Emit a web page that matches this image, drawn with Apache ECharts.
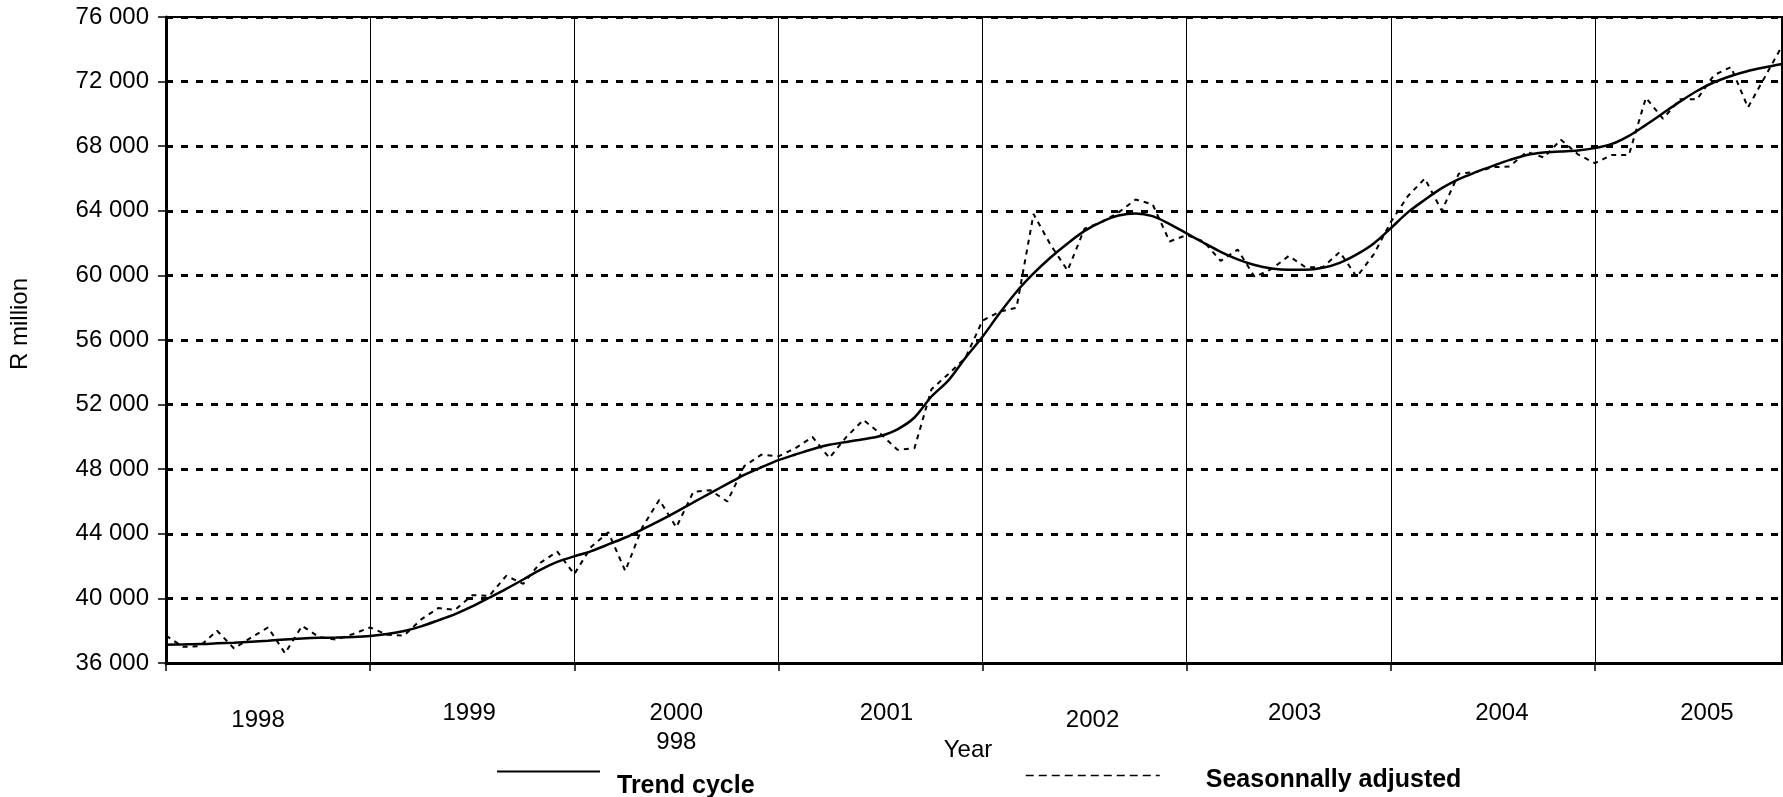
<!DOCTYPE html>
<html>
<head>
<meta charset="utf-8">
<script src="https://cdn.jsdelivr.net/npm/echarts@6/dist/echarts.min.js"></script>
<style>
html,body{margin:0;padding:0;background:#fff;}
#chart{width:1783px;height:797px;}
</style>
</head>
<body>
<div id="chart"></div>
<script>
// ---- data ----
var years = ['1998','1999','2000','2001','2002','2003','2004','2005'];
var yTicks = [36000, 40000, 44000, 48000, 52000, 56000, 60000, 64000, 68000, 72000, 76000];
var trendCycle = [
  37130, 37150, 37170, 37220, 37260, 37320, 37380, 37460, 37520, 37560, 37580, 37610,
  37670, 37790, 37980, 38270, 38640, 39030, 39500, 40040, 40590, 41170, 41770, 42260,
  42600, 42930, 43340, 43770, 44270, 44800, 45360, 45940, 46520, 47090, 47650, 48120,
  48560, 48910, 49240, 49510, 49690, 49860, 50060, 50470, 51200, 52500, 53500, 54900,
  56200, 57650, 58990, 60120, 61110, 61980, 62760, 63320, 63710, 63840, 63670, 63180,
  62600, 62020, 61460, 60990, 60640, 60430, 60350, 60350, 60470, 60780, 61300, 61980,
  62920, 63900, 64680, 65400, 65960, 66390, 66780, 67150, 67460, 67610, 67670, 67730,
  67880, 68140, 68640, 69320, 70040, 70760, 71420, 71960, 72350, 72660, 72890, 73090
];
var seasonallyAdjusted = [
  37700, 37000, 37050, 38000, 36900, 37570, 38200, 36600, 38300, 37600, 37450, 37800,
  38200, 37750, 37700, 38700, 39400, 39300, 40200, 40150, 41400, 40900, 42200, 42900,
  41500, 43200, 44100, 41700, 44400, 46100, 44400, 46600, 46700, 46000, 48200, 48900,
  48800, 49300, 50000, 48700, 50000, 51050, 50200, 49200, 49300, 52950, 53900, 54900,
  57200, 57750, 58000, 63800, 61900, 60300, 62900, 63300, 63900, 64700, 64400, 62100,
  62500, 62100, 60900, 61600, 59900, 60400, 61200, 60500, 60500, 61450, 59900, 61300,
  63300, 64900, 66000, 64000, 66300, 66400, 66700, 66750, 67650, 67300, 68400, 67500,
  66950, 67460, 67460, 71000, 69700, 70900, 70900, 72400, 72900, 70400, 72300, 74200
];

// monthly categories built from years
var months = [];
years.forEach(function (y) { for (var m = 1; m <= 12; m++) months.push(y + '-' + (m < 10 ? '0' + m : m)); });

// ---- label styling (horizontal nudge in px, extra drop in px) ----
var yearLabelNudge = {'1998': [-10, 14], '1999': [-3, 0], '2000': [0, 0], '2001': [6, 0], '2002': [8, 14], '2003': [6, 0], '2004': [9, 0], '2005': [10, 0]};

var FONT = '"Liberation Sans", Arial, sans-serif';
var FS = 24;
function fmtThousands(v) { return String(v).replace(/\B(?=(\d{3})+(?!\d))/g, ' '); }

var rich = {};
Object.keys(yearLabelNudge).forEach(function (y) {
  var dx = yearLabelNudge[y][0], dy = yearLabelNudge[y][1];
  rich['y' + y] = {
    fontFamily: FONT, fontSize: FS, color: '#000', lineHeight: 29,
    padding: [dy, dx < 0 ? -2 * dx : 0, 0, dx > 0 ? 2 * dx : 0]
  };
});

var chart = echarts.init(document.getElementById('chart'), null, {renderer: 'canvas'});
chart.setOption({
  animation: false,
  backgroundColor: '#fff',
  textStyle: {fontFamily: FONT, color: '#000'},
  grid: {left: 159, right: 1, top: 17, bottom: 134, show: true, borderColor: '#000', borderWidth: 2, backgroundColor: 'transparent'},
  legend: [
    {
      data: ['Trend cycle'], left: 491, top: 761, itemWidth: 103, itemHeight: 14, selectedMode: false,
      itemStyle: {color: 'rgba(0,0,0,0)', borderWidth: 0},
      formatter: '{a|{name}}',
      textStyle: {rich: {a: {fontFamily: FONT, fontSize: 25, fontWeight: 'bold', color: '#000', padding: [30, 0, 0, 12]}}}
    },
    {
      data: ['Seasonnally adjusted'], left: 1020, top: 763, itemWidth: 134, itemHeight: 14, selectedMode: false,
      itemStyle: {color: 'rgba(0,0,0,0)', borderWidth: 0},
      formatter: '{a|{name}}',
      lineStyle: {type: [8, 5], width: 1.5},
      textStyle: {rich: {a: {fontFamily: FONT, fontSize: 25, fontWeight: 'bold', color: '#000', padding: [10, 0, 0, 41]}}}
    }
  ],
  xAxis: {
    type: 'category',
    data: months,
    boundaryGap: false,
    name: 'Year',
    nameLocation: 'middle',
    nameGap: 75,
    nameMoveOverlap: false,
    nameTextStyle: {fontFamily: FONT, fontSize: FS, color: '#000', padding: [0, 12, 0, 0]},
    axisLine: {show: true, lineStyle: {color: '#000', width: 3}},
    axisTick: {show: true, length: 8, interval: function (i) { return i % 12 === 0; }, lineStyle: {color: '#000', width: 1.5}},
    splitLine: {show: true, interval: function (i) { return i % 12 === 0 && i > 0; }, lineStyle: {color: '#000', width: 1, type: 'solid'}},
    axisLabel: {
      show: true,
      interval: function (i) { return i % 12 === 6; },
      margin: 36,
      formatter: function (v) {
        var y = v.slice(0, 4);
        if (y === '2000') return '{y2000|' + y + '}\n{y2000|998}';
        return '{y' + y + '|' + y + '}';
      },
      rich: rich
    }
  },
  yAxis: {
    type: 'value',
    min: 36000,
    max: 76000,
    interval: 4000,
    name: 'R million',
    nameLocation: 'middle',
    nameGap: 134,
    nameMoveOverlap: false,
    nameTextStyle: {fontFamily: FONT, fontSize: FS, color: '#000', padding: [0, 0, 0, 32]},
    axisLine: {show: true, lineStyle: {color: '#000', width: 3}},
    axisTick: {show: true, length: 8, lineStyle: {color: '#000', width: 1.5}},
    axisLabel: {margin: 17, fontFamily: FONT, fontSize: FS, color: '#000', formatter: fmtThousands},
    splitLine: {show: true, lineStyle: {color: '#000', width: 3, type: [7, 8]}}
  },
  series: [
    {
      name: 'Trend cycle', type: 'line', data: trendCycle, smooth: 0.3, symbol: 'none',
      lineStyle: {color: '#000', width: 2.5, type: 'solid'}, itemStyle: {color: '#000'}, z: 3
    },
    {
      name: 'Seasonnally adjusted', type: 'line', data: seasonallyAdjusted, smooth: false, symbol: 'none',
      lineStyle: {color: '#000', width: 2, type: [5, 5]}, itemStyle: {color: '#000'}, z: 2
    }
  ]
});
</script>
</body>
</html>
